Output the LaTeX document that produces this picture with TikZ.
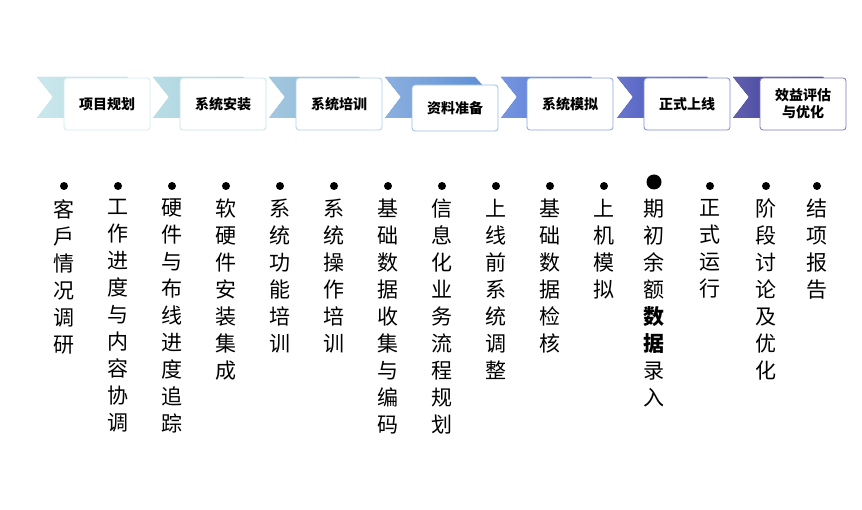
\documentclass[tikz,border=0pt]{standalone}
\usepackage{fontspec}
\setmainfont{Noto Sans CJK SC}
\usepackage{tikz}
\usetikzlibrary{positioning}
\definecolor{cA}{HTML}{B3DCE3}
\definecolor{cB}{HTML}{9CCEDB}
\definecolor{cC}{HTML}{7DB0D2}
\definecolor{cD}{HTML}{5A8DD2}
\definecolor{cE}{HTML}{3D68D2}
\definecolor{cF}{HTML}{2A3CB5}
\definecolor{cG}{HTML}{1E1D8C}
\tikzset{
  stagebox/.style={draw=#1!60, line width=0.8pt, fill=white, rounded corners=3pt,
    minimum width=86pt, minimum height=52pt, font=\bfseries\fontsize{14}{17}\selectfont, align=center},
  itemcol/.style={anchor=north, align=center, text width=22pt, inner sep=0pt,
    font=\fontsize{21}{27}\selectfont},
  dot/.style={circle, fill=black, inner sep=0pt, minimum size=8pt}
}
\begin{document}
\begin{tikzpicture}[x=1pt,y=-1pt]
  \useasboundingbox (0,0) rectangle (862,510);
  % Chevrons and stage boxes
  \foreach \i/\c in {0/cA,1/cB,2/cC,3/cD,4/cE,5/cF,6/cG}{
    \pgfmathsetmacro{\xl}{37+116*\i}
    \fill[\c, left color=\c!70, right color=\c] (\xl,77) -- (\xl+90,77) -- (\xl+108,97)
      -- (\xl+90,118) -- (\xl,118) -- (\xl+16,97) -- cycle;
  }
  \node[stagebox=cA] (s1) at (107,104) {项目规划};
  \node[stagebox=cB] (s2) at (223,104) {系统安装};
  \node[stagebox=cC] (s3) at (339,104) {系统培训};
  \node[stagebox=cD, minimum height=46pt] (s4) at (455,108) {资料准备};
  \node[stagebox=cE] (s5) at (570,104) {系统模拟};
  \node[stagebox=cF] (s6) at (687,104) {正式上线};
  \node[stagebox=cG] (s7) at (803,104) {效益评估\\与优化};
  % Item columns
  \foreach \n/\x/\t in {1/64/客\\戶\\情\\况\\调\\研,
      2/118/工\\作\\进\\度\\与\\内\\容\\协\\调,
      3/172/硬\\件\\与\\布\\线\\进\\度\\追\\踪,
      4/226/软\\硬\\件\\安\\装\\集\\成,
      5/280/系\\统\\功\\能\\培\\训,
      6/334/系\\统\\操\\作\\培\\训,
      7/388/基\\础\\数\\据\\收\\集\\与\\编\\码,
      8/442/信\\息\\化\\业\\务\\流\\程\\规\\划,
      9/496/上\\线\\前\\系\\统\\调\\整,
      10/550/基\\础\\数\\据\\检\\核,
      11/604/上\\机\\模\\拟,
      13/710/正\\式\\运\\行,
      14/766/阶\\段\\讨\\论\\及\\优\\化,
      15/817/结\\项\\报\\告}{
    \node[dot] (d\n) at (\x,186) {};
    \node[itemcol] (t\n) at (\x,199) {\t};
  }
  \node[dot, minimum size=15pt] (d12) at (654,182) {};
  \node[itemcol] (t12) at (654,199) {期\\初\\余\\额\\\textbf{数}\\\textbf{据}\\录\\入};
\end{tikzpicture}
\end{document}
